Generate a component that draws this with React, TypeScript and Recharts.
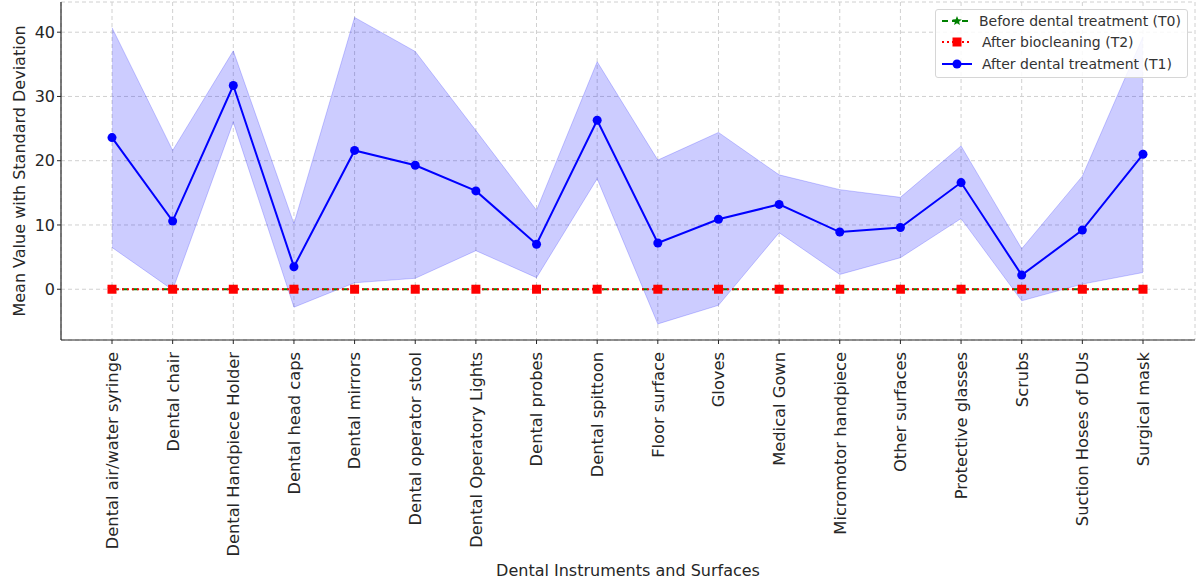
import React from 'react';
import {
  ComposedChart,
  Line,
  Area,
  XAxis,
  YAxis,
  CartesianGrid,
} from 'recharts';

const categories = [
  'Dental air/water syringe',
  'Dental chair',
  'Dental Handpiece Holder',
  'Dental head caps',
  'Dental mirrors',
  'Dental operator stool',
  'Dental Operatory Lights',
  'Dental probes',
  'Dental spittoon',
  'Floor surface',
  'Gloves',
  'Medical Gown',
  'Micromotor handpiece',
  'Other surfaces',
  'Protective glasses',
  'Scrubs',
  'Suction Hoses of DUs',
  'Surgical mask',
];

// T1 means and +/- SD band
const t1Mean = [23.6, 10.6, 31.7, 3.5, 21.6, 19.3, 15.3, 7.0, 26.3, 7.2, 10.9, 13.2, 8.9, 9.6, 16.6, 2.2, 9.2, 21.0];
const t1Lower = [6.5, -0.1, 26.0, -2.8, 1.0, 1.7, 6.0, 1.8, 17.2, -5.4, -2.5, 8.8, 2.3, 4.9, 11.0, -1.8, 0.8, 2.6];
const t1Upper = [40.7, 21.6, 37.1, 10.2, 42.3, 37.0, 24.7, 12.3, 35.4, 20.1, 24.4, 17.8, 15.5, 14.3, 22.3, 6.3, 17.6, 39.3];

// T0 and T2 are all zero
const t0Values = [0, 0, 0, 0, 0, 0, 0, 0, 0, 0, 0, 0, 0, 0, 0, 0, 0, 0];
const t2Values = [0, 0, 0, 0, 0, 0, 0, 0, 0, 0, 0, 0, 0, 0, 0, 0, 0, 0];

const yTicks = [0, 10, 20, 30, 40];

const data = categories.map((name, i) => ({
  name,
  t0: t0Values[i],
  t2: t2Values[i],
  t1: t1Mean[i],
  band: [t1Lower[i], t1Upper[i]],
}));

const FONT = '"DejaVu Sans", Verdana, sans-serif';
const TEXT = '#262626';

const RotatedTick = (props: any) => {
  const { x, y, payload } = props;
  return (
    <text
      x={x}
      y={y + 6}
      transform={`rotate(-90, ${x}, ${y + 6})`}
      textAnchor="end"
      dy="0.36em"
      fontSize={16.3}
      fontFamily={FONT}
      fill={TEXT}
    >
      {payload.value}
    </text>
  );
};

const Square = (props: any) => {
  const { cx, cy } = props;
  if (cx == null || cy == null) return null;
  return <rect x={cx - 4.5} y={cy - 4.5} width={9} height={9} fill="#ff0000" />;
};

const Star = (props: any) => {
  const { cx, cy } = props;
  if (cx == null || cy == null) return null;
  const pts: string[] = [];
  for (let k = 0; k < 10; k++) {
    const r = k % 2 === 0 ? 5 : 2.2;
    const a = -Math.PI / 2 + (k * Math.PI) / 5;
    pts.push(`${cx + r * Math.cos(a)},${cy + r * Math.sin(a)}`);
  }
  return <polygon points={pts.join(' ')} fill="#008000" />;
};

const legendItems = [
  { label: 'Before dental treatment (T0)', color: '#008000', dash: '6 4', marker: 'star' },
  { label: 'After biocleaning (T2)', color: '#ff0000', dash: '2 3', marker: 'square' },
  { label: 'After dental treatment (T1)', color: '#0000ff', dash: undefined, marker: 'circle' },
];

const LegendBox = () => (
  <div
    style={{
      position: 'absolute',
      left: 935,
      top: 9,
      width: 253,
      boxSizing: 'border-box',
      border: '1px solid #d6d6d6',
      borderRadius: 3,
      background: 'rgba(255,255,255,0.85)',
      padding: '0px 6px 2px 5px',
      fontFamily: FONT,
      fontSize: 14,
      color: '#333',
    }}
  >
    {legendItems.map((it) => (
      <div key={it.label} style={{ display: 'flex', alignItems: 'center', height: 21.5 }}>
        <svg width={32} height={14} style={{ marginRight: 9 }}>
          <line x1={1} y1={7} x2={31} y2={7} stroke={it.color} strokeWidth={2} strokeDasharray={it.dash} />
          {it.marker === 'circle' && <circle cx={16} cy={7} r={4.5} fill={it.color} />}
          {it.marker === 'square' && <rect x={11.5} y={2.5} width={9} height={9} fill={it.color} />}
          {it.marker === 'star' && <Star cx={16} cy={7} />}
        </svg>
        <span style={{ whiteSpace: 'nowrap' }}>{it.label}</span>
      </div>
    ))}
  </div>
);

export default function App() {
  return (
    <div style={{ position: 'absolute', left: 0, top: 0, width: 1197, height: 581, background: '#fff' }}>
      <ComposedChart
        width={1197}
        height={581}
        data={data}
        margin={{ top: 2, right: 2, left: 0, bottom: 0 }}
      >
        <CartesianGrid stroke="#d0d0d0" strokeDasharray="4 3" vertical horizontal />
        <XAxis
          dataKey="name"
          interval={0}
          height={241}
          padding={{ left: 51, right: 52 }}
          tick={<RotatedTick />}
          tickSize={4}
          axisLine={{ stroke: '#262626', strokeWidth: 1.2 }}
          tickLine={{ stroke: '#262626' }}
          label={{
            value: 'Dental Instruments and Surfaces',
            position: 'insideBottom',
            offset: 5,
            fontSize: 16,
            fontFamily: FONT,
            fill: TEXT,
          }}
        />
        <YAxis
          type="number"
          width={61}
          domain={[-7.9, 44.7]}
          ticks={yTicks}
          allowDataOverflow
          tickSize={4}
          axisLine={{ stroke: '#262626', strokeWidth: 1.2 }}
          tickLine={{ stroke: '#262626' }}
          tick={{ fontSize: 16, fontFamily: FONT, fill: TEXT }}
          label={{
            value: 'Mean Value with Standard Deviation',
            angle: -90,
            position: 'insideLeft',
            offset: 19,
            style: { textAnchor: 'middle' },
            fontSize: 16,
            fontFamily: FONT,
            fill: TEXT,
          }}
        />
        <Area
          dataKey="band"
          stroke="#0000ff"
          strokeOpacity={0.2}
          fill="#0000ff"
          fillOpacity={0.2}
          isAnimationActive={false}
          legendType="none"
          activeDot={false}
        />
        <Line
          dataKey="t0"
          stroke="#008000"
          strokeWidth={2}
          strokeDasharray="6 4"
          dot={<Star />}
          isAnimationActive={false}
        />
        <Line
          dataKey="t2"
          stroke="#ff0000"
          strokeWidth={2}
          strokeDasharray="2 3"
          dot={<Square />}
          isAnimationActive={false}
        />
        <Line
          dataKey="t1"
          stroke="#0000ff"
          strokeWidth={2}
          dot={{ r: 4.5, fill: '#0000ff', stroke: '#0000ff', strokeWidth: 0 }}
          isAnimationActive={false}
        />
      </ComposedChart>
      <LegendBox />
    </div>
  );
}
